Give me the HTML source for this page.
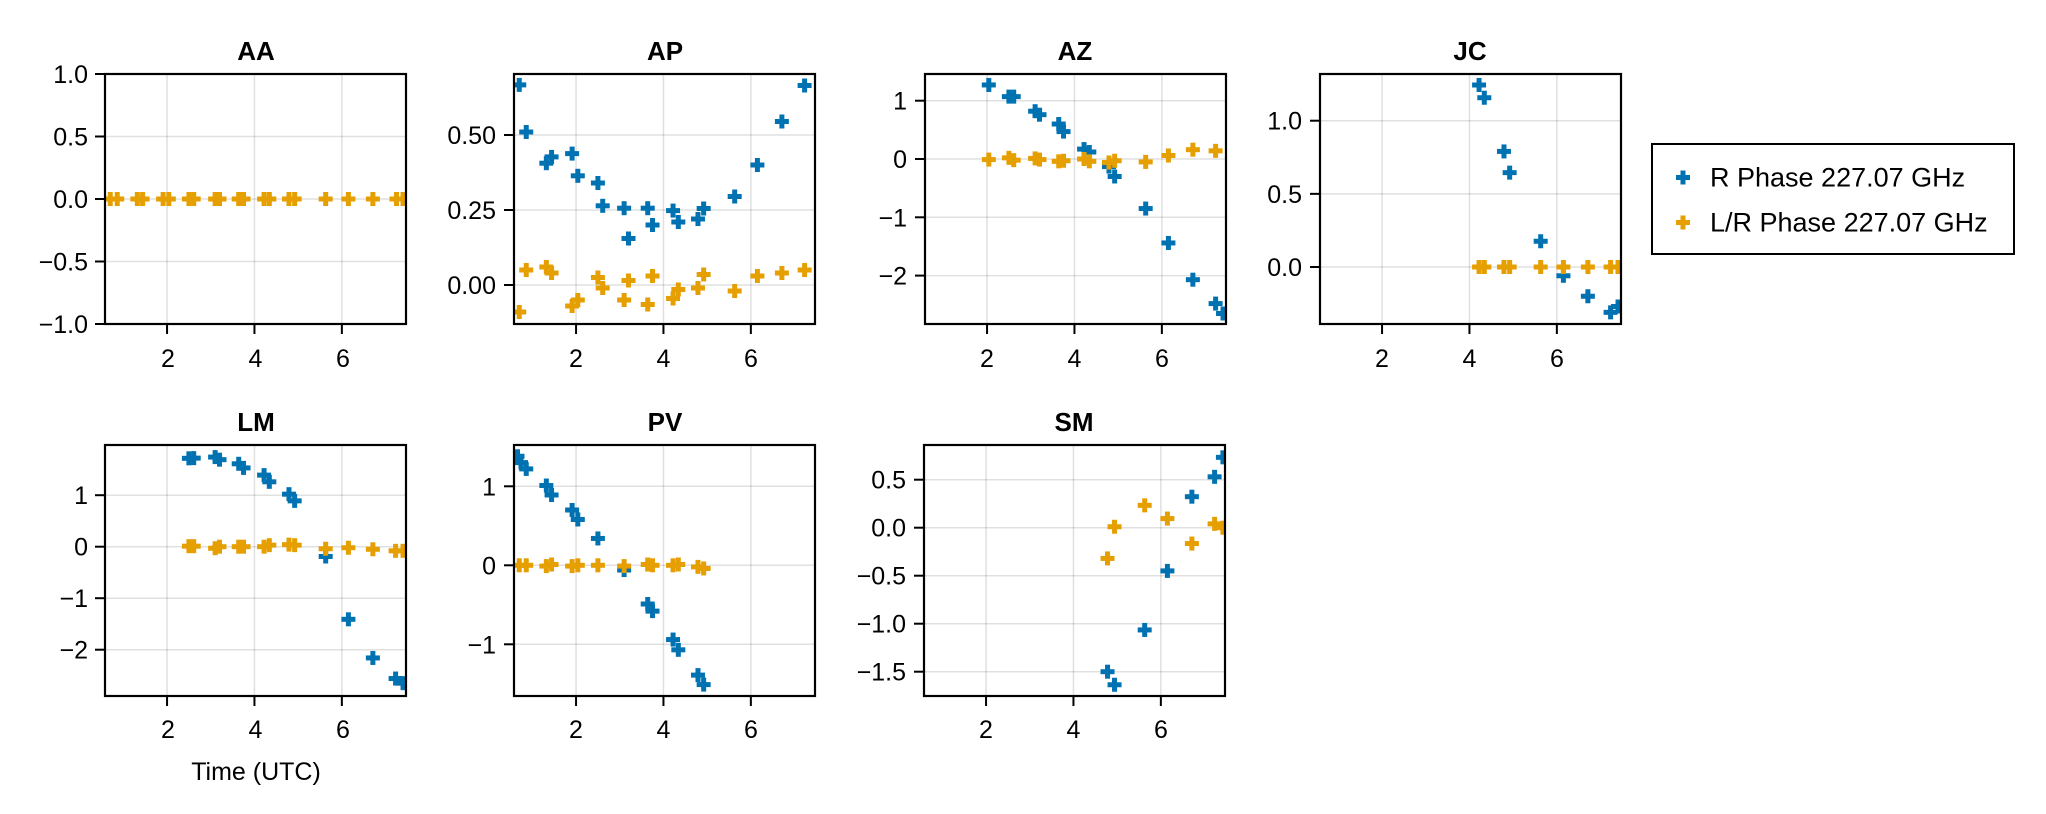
<!DOCTYPE html>
<html><head><meta charset="utf-8"><style>
html,body{margin:0;padding:0;background:#fff;}
svg{display:block;}
text{font-family:"Liberation Sans",Arial,sans-serif;fill:#000;}
.t{font-size:26px;font-weight:bold;text-anchor:middle;}
.yl{font-size:25px;text-anchor:end;}
.xl{font-size:25px;text-anchor:middle;}
.lg{font-size:27px;}
</style></head><body>
<svg id="s" width="2046" height="814" viewBox="0 0 2046 814" xmlns="http://www.w3.org/2000/svg">
<g id="grid"></g>
<g id="pts"></g>
<g id="frames"></g>
<text class="t" x="256" y="60">AA</text>
<text class="t" x="665" y="60">AP</text>
<text class="t" x="1075" y="60">AZ</text>
<text class="t" x="1470" y="60">JC</text>
<text class="t" x="256" y="431">LM</text>
<text class="t" x="665" y="431">PV</text>
<text class="t" x="1074" y="431">SM</text>
<g class="yl">
<text class="yl" x="88" y="83">1.0</text>
<text class="yl" x="88" y="145.5">0.5</text>
<text class="yl" x="88" y="208">0.0</text>
<text class="yl" x="88" y="270.5">−0.5</text>
<text class="yl" x="88" y="333">−1.0</text>

<text class="yl" x="496" y="144">0.50</text>
<text class="yl" x="496" y="219">0.25</text>
<text class="yl" x="496" y="294">0.00</text>

<text class="yl" x="907" y="109.7">1</text>
<text class="yl" x="907" y="168">0</text>
<text class="yl" x="907" y="226.3">−1</text>
<text class="yl" x="907" y="284.6">−2</text>

<text class="yl" x="1302" y="129.7">1.0</text>
<text class="yl" x="1302" y="202.9">0.5</text>
<text class="yl" x="1302" y="276">0.0</text>

<text class="yl" x="88" y="504.2">1</text>
<text class="yl" x="88" y="555.7">0</text>
<text class="yl" x="88" y="607.2">−1</text>
<text class="yl" x="88" y="658.7">−2</text>

<text class="yl" x="496" y="495.3">1</text>
<text class="yl" x="496" y="574.3">0</text>
<text class="yl" x="496" y="653.3">−1</text>

<text class="yl" x="906" y="488.7">0.5</text>
<text class="yl" x="906" y="536.7">0.0</text>
<text class="yl" x="906" y="584.7">−0.5</text>
<text class="yl" x="906" y="632.7">−1.0</text>
<text class="yl" x="906" y="680.7">−1.5</text>
</g>
<text class="xl" x="168" y="367">2</text><text class="xl" x="255.5" y="367">4</text><text class="xl" x="343" y="367">6</text>
<text class="xl" x="576" y="367">2</text><text class="xl" x="663.5" y="367">4</text><text class="xl" x="751" y="367">6</text>
<text class="xl" x="987" y="367">2</text><text class="xl" x="1074.5" y="367">4</text><text class="xl" x="1162" y="367">6</text>
<text class="xl" x="1382" y="367">2</text><text class="xl" x="1469.5" y="367">4</text><text class="xl" x="1557" y="367">6</text>
<text class="xl" x="168" y="738">2</text><text class="xl" x="255.5" y="738">4</text><text class="xl" x="343" y="738">6</text>
<text class="xl" x="576" y="738">2</text><text class="xl" x="663.5" y="738">4</text><text class="xl" x="751" y="738">6</text>
<text class="xl" x="986" y="738">2</text><text class="xl" x="1073.5" y="738">4</text><text class="xl" x="1161" y="738">6</text>
<text class="xl" x="256" y="780">Time (UTC)</text>
<rect x="1652" y="144" width="362" height="110" fill="#fff" stroke="#000" stroke-width="2"/>
<rect x="1676" y="175" width="14" height="5" fill="#0072b2"/><rect x="1680.5" y="170.5" width="5" height="14" fill="#0072b2"/>
<rect x="1676" y="220" width="14" height="5" fill="#e69f00"/><rect x="1680.5" y="215.5" width="5" height="14" fill="#e69f00"/>
<text class="lg" x="1710" y="186.5">R Phase 227.07 GHz</text>
<text class="lg" x="1710" y="231.5">L/R Phase 227.07 GHz</text>
</svg>
<script>
var NS="http://www.w3.org/2000/svg";
function el(n,a,p){var e=document.createElementNS(NS,n);for(var k in a)e.setAttribute(k,a[k]);p.appendChild(e);return e;}
var G=document.getElementById('grid'),P=document.getElementById('pts'),F=document.getElementById('frames'),S=document.getElementById('s');
var defs=el('defs',{},S);
var panels=[
{L:105,T:74,B:324,z:199,k:125,yt:[1,0.5,0,-0.5,-1],
 b:[],o:[[0.70,0],[0.86,0],[1.32,0],[1.44,0],[1.91,0],[2.04,0],[2.50,0],[2.61,0],[3.10,0],[3.20,0],[3.64,0],[3.75,0],[4.22,0],[4.34,0],[4.79,0],[4.92,0],[5.63,0],[6.15,0],[6.71,0],[7.25,0],[7.40,0]]},
{L:514,T:74,B:324,z:285,k:300,yt:[0.5,0.25,0],
 b:[[0.70,0.667],[0.86,0.51],[1.32,0.406],[1.44,0.427],[1.91,0.438],[2.04,0.364],[2.50,0.34],[2.61,0.264],[3.10,0.256],[3.20,0.155],[3.64,0.256],[3.75,0.20],[4.22,0.248],[4.34,0.21],[4.79,0.22],[4.92,0.255],[5.63,0.295],[6.15,0.40],[6.71,0.545],[7.23,0.665]],
 o:[[0.70,-0.09],[0.86,0.05],[1.32,0.06],[1.44,0.04],[1.91,-0.07],[2.04,-0.05],[2.50,0.025],[2.61,-0.01],[3.10,-0.05],[3.20,0.015],[3.64,-0.065],[3.75,0.03],[4.22,-0.045],[4.34,-0.015],[4.79,-0.01],[4.92,0.035],[5.63,-0.02],[6.15,0.03],[6.71,0.04],[7.23,0.05]]},
{L:925,T:74,B:324,z:159,k:58.3,yt:[1,0,-1,-2],
 b:[[2.04,1.27],[2.50,1.07],[2.61,1.07],[3.10,0.82],[3.20,0.76],[3.64,0.6],[3.75,0.47],[4.22,0.17],[4.34,0.12],[4.79,-0.13],[4.92,-0.30],[5.63,-0.85],[6.15,-1.44],[6.71,-2.07],[7.23,-2.48],[7.40,-2.65]],
 o:[[2.04,-0.01],[2.50,0.02],[2.61,-0.02],[3.10,0.01],[3.20,-0.01],[3.64,-0.04],[3.75,-0.03],[4.22,0],[4.34,-0.04],[4.79,-0.06],[4.92,-0.03],[5.63,-0.05],[6.15,0.06],[6.71,0.16],[7.23,0.14]]},
{L:1320,T:74,B:324,z:267,k:146.3,yt:[1,0.5,0],
 b:[[4.22,1.244],[4.34,1.157],[4.79,0.79],[4.92,0.645],[5.63,0.176],[6.15,-0.06],[6.71,-0.2],[7.23,-0.31],[7.40,-0.27]],
 o:[[4.22,0],[4.34,0],[4.79,0],[4.92,0],[5.63,0],[6.15,0],[6.71,0],[7.23,0],[7.40,0]]},
{L:105,T:445,B:696,z:546.7,k:51.5,yt:[1,0,-1,-2],
 b:[[2.50,1.716],[2.61,1.72],[3.10,1.74],[3.20,1.69],[3.64,1.61],[3.75,1.53],[4.22,1.39],[4.34,1.26],[4.79,1.02],[4.92,0.89],[5.63,-0.19],[6.15,-1.41],[6.71,-2.16],[7.23,-2.56],[7.40,-2.65]],
 o:[[2.50,0.01],[2.61,0.01],[3.10,-0.03],[3.20,0],[3.64,0],[3.75,0],[4.22,0],[4.34,0.03],[4.79,0.04],[4.92,0.03],[5.63,-0.04],[6.15,-0.02],[6.71,-0.05],[7.23,-0.08],[7.40,-0.08]]},
{L:514,T:445,B:696,z:565.3,k:79,yt:[1,0,-1],
 b:[[0.66,1.38],[0.74,1.3],[0.86,1.22],[1.32,1.01],[1.44,0.89],[1.91,0.70],[2.04,0.58],[2.50,0.34],[3.10,-0.06],[3.64,-0.49],[3.75,-0.58],[4.22,-0.94],[4.34,-1.07],[4.79,-1.39],[4.92,-1.51]],
 o:[[0.70,0],[0.86,0],[1.32,-0.01],[1.44,0.01],[1.91,-0.01],[2.04,0],[2.50,0],[3.10,-0.01],[3.64,0.01],[3.75,0],[4.22,0],[4.34,0.01],[4.79,-0.02],[4.92,-0.04]]},
{L:924,T:445,B:696,z:527.7,k:96,yt:[0.5,0,-0.5,-1,-1.5],
 b:[[4.78,-1.5],[4.94,-1.636],[5.63,-1.065],[6.15,-0.45],[6.71,0.323],[7.23,0.53],[7.42,0.733]],
 o:[[4.78,-0.32],[4.94,0.01],[5.63,0.233],[6.15,0.095],[6.71,-0.165],[7.23,0.04],[7.42,0.0]]}
];
var W=301, ppu=43.7, x0=0.58;
panels.forEach(function(p,i){
  var R=p.L+W;
  var cp=el('clipPath',{id:'c'+i},defs);
  el('rect',{x:p.L,y:p.T,width:W,height:p.B-p.T},cp);
  [2,4,6].forEach(function(t){var x=p.L+(t-x0)*ppu;
    el('line',{x1:x,x2:x,y1:p.T,y2:p.B,stroke:'rgba(0,0,0,0.12)','stroke-width':1.5},G);
    el('line',{x1:x,x2:x,y1:p.B,y2:p.B+10,stroke:'#000','stroke-width':2},F);});
  p.yt.forEach(function(v){var y=p.z-v*p.k;
    el('line',{x1:p.L,x2:R,y1:y,y2:y,stroke:'rgba(0,0,0,0.12)','stroke-width':1.5},G);
    el('line',{x1:p.L-10,x2:p.L,y1:y,y2:y,stroke:'#000','stroke-width':2},F);});
  el('rect',{x:p.L,y:p.T,width:W,height:p.B-p.T,fill:'none',stroke:'#000','stroke-width':2.2},F);
  var g=el('g',{'clip-path':'url(#c'+i+')'},P);
  function draw(arr,c){arr.forEach(function(d){var x=p.L+(d[0]-x0)*ppu,y=p.z-d[1]*p.k;
    el('rect',{x:x-7,y:y-2.5,width:14,height:5,fill:c},g);
    el('rect',{x:x-2.5,y:y-7,width:5,height:14,fill:c},g);});}
  draw(p.b,'#0072b2');draw(p.o,'#e69f00');
});
</script>
</body></html>
